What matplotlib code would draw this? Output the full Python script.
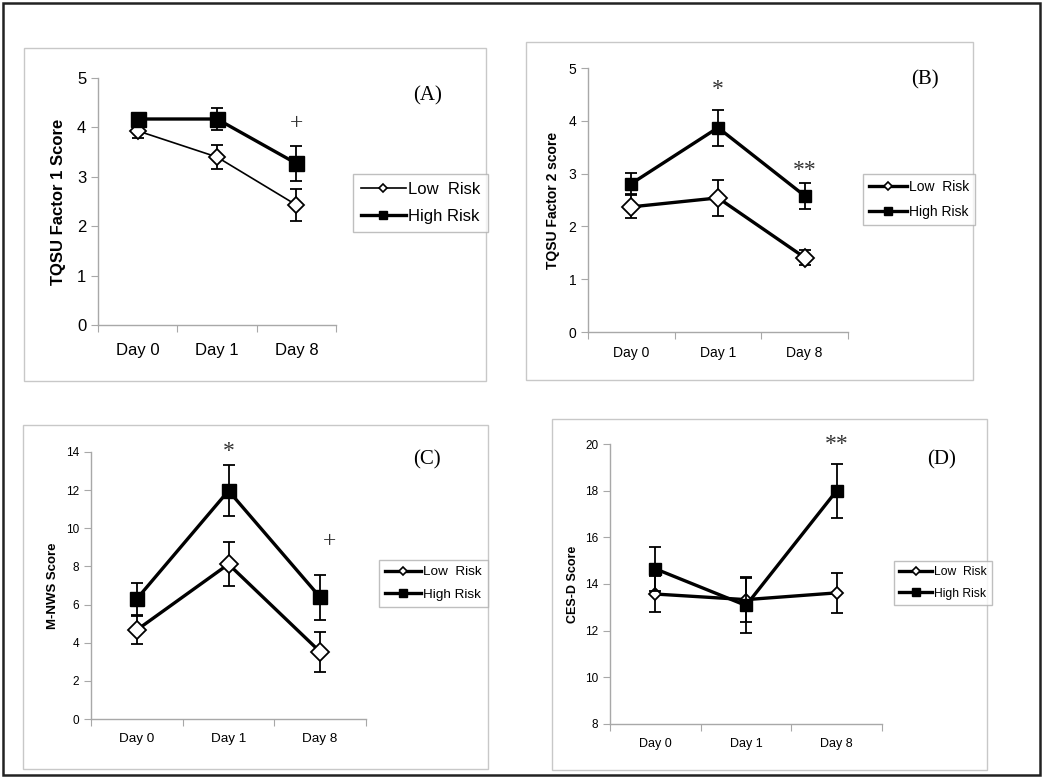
import matplotlib
matplotlib.use("Agg")
from matplotlib import pyplot as plt
from matplotlib.patches import Rectangle
from matplotlib.lines import Line2D

plt.rcParams['font.family'] = ['Liberation Sans', 'DejaVu Sans']

days = ['Day 0', 'Day 1', 'Day 8']
series = ['Low  Risk', 'High Risk']

# (A) TQSU factor 1
a_low = [3.93, 3.40, 2.43]
a_low_err = [0.15, 0.24, 0.33]
a_high = [4.17, 4.17, 3.27]
a_high_err = [0.10, 0.23, 0.35]

# (B) TQSU factor 2
b_low = [2.37, 2.54, 1.41]
b_low_err = [0.22, 0.34, 0.15]
b_high = [2.81, 3.87, 2.58]
b_high_err = [0.20, 0.34, 0.25]

# (C) M-NWS
c_low = [4.67, 8.12, 3.52]
c_low_err = [0.75, 1.15, 1.05]
c_high = [6.30, 11.97, 6.38]
c_high_err = [0.85, 1.35, 1.18]

# (D) CES-D
d_low = [13.57, 13.33, 13.62]
d_low_err = [0.77, 0.95, 0.85]
d_high = [14.65, 13.08, 18.0]
d_high_err = [0.93, 1.17, 1.15]

W, H = 1050, 780
fig = plt.figure(figsize=(W / 100, H / 100), dpi=100)

# frames drawn in pixel space
bg = fig.add_axes([0, 0, 1, 1], zorder=-1)
bg.set_xlim(0, W)
bg.set_ylim(H, 0)
bg.axis('off')
bg.add_patch(Rectangle((3, 3), 1037, 772, fill=False, ec='#222222', lw=1.8))
for x0, y0, x1, y1 in [(24, 48, 486, 381), (526, 42, 973, 380),
                       (23, 425, 488, 769), (552, 419, 987, 770)]:
    bg.add_patch(Rectangle((x0, y0), x1 - x0, y1 - y0, fill=False,
                           ec='#c8c8c8', lw=1.0))

SERIF = ['Liberation Serif', 'DejaVu Serif']


def px_axes(x0, y0, x1, y1):
    return fig.add_axes([x0 / W, 1 - y1 / H, (x1 - x0) / W, (y1 - y0) / H])


def panel(box, low, low_err, high, high_err, ylim, yticks, ylabel,
          tick_fs, day_fs, lab_fs, lab_pad, leg_fs, leg_xy, tag, tag_xy,
          marks, sq=9, dm=8.5, low_lw=2.4, day_pad=12):
    ax = px_axes(*box)
    xs = [0.5, 1.5, 2.5]
    ax.errorbar(xs, low, yerr=low_err, color='black', lw=low_lw,
                elinewidth=1.3, capsize=4.5, capthick=1.3, marker='D',
                ms=dm, mfc='white', mec='black', mew=1.3, zorder=3)
    ax.errorbar(xs, high, yerr=high_err, color='black', lw=2.4,
                elinewidth=1.3, capsize=4.5, capthick=1.3, marker='s',
                ms=sq, mfc='black', mec='black', zorder=4)
    ax.set_xlim(0, 3)
    ax.set_ylim(*ylim)
    ax.set_yticks(yticks)
    ax.set_xticks([0, 1, 2, 3])
    ax.set_xticklabels([])
    ax.set_xticks(xs, minor=True)
    ax.set_xticklabels(days, minor=True, fontsize=day_fs)
    ax.tick_params(axis='x', which='major', length=5, color='#a8a8a8')
    ax.tick_params(axis='x', which='minor', length=0, pad=day_pad)
    ax.tick_params(axis='y', length=5, color='#a8a8a8', labelsize=tick_fs)
    for s in ['top', 'right']:
        ax.spines[s].set_visible(False)
    for s in ['left', 'bottom']:
        ax.spines[s].set_color('#a8a8a8')
        ax.spines[s].set_linewidth(1.0)
    ax.set_ylabel(ylabel, fontsize=lab_fs, fontweight='bold', labelpad=lab_pad)
    ax.set_facecolor('none')
    for x, y, s in marks:
        ax.text(x, y, s, ha='center', va='center', fontsize=17,
                family=SERIF, color='#333333')
    bg.text(tag_xy[0], tag_xy[1], tag, ha='center', va='center', fontsize=15,
            family=SERIF)
    handles = [
        Line2D([], [], color='black', lw=low_lw, marker='D', ms=4.2,
               mfc='white', mec='black', mew=1.2),
        Line2D([], [], color='black', lw=2.4, marker='s', ms=5.5,
               mfc='black', mec='black'),
    ]
    leg = ax.legend(handles, series, loc='upper left', fontsize=leg_fs,
                    frameon=True, fancybox=False, edgecolor='#b0b0b0',
                    handlelength=2.7, handletextpad=0.15, borderpad=0.45,
                    labelspacing=0.75, borderaxespad=0,
                    bbox_to_anchor=(leg_xy[0] / W, 1 - leg_xy[1] / H),
                    bbox_transform=fig.transFigure)
    leg.get_frame().set_linewidth(1.0)
    return ax


panel((98, 78, 336, 325), a_low, a_low_err, a_high, a_high_err,
      (0, 5), [0, 1, 2, 3, 4, 5], 'TQSU Factor 1 Score',
      12, 12, 12, 8, 12, (353, 174), '(A)', (428, 96),
      [(2.5, 4.07, '+')], sq=10.8, dm=8.2, low_lw=1.2, day_pad=13)

panel((588, 68, 848, 332), b_low, b_low_err, b_high, b_high_err,
      (0, 5), [0, 1, 2, 3, 4, 5], 'TQSU Factor 2 score',
      10, 10, 10, 6, 10, (863, 174), '(B)', (925, 80),
      [(1.5, 4.6, '*'), (2.5, 3.06, '**')], sq=8.8, dm=9.5, day_pad=10)

panel((91, 452, 366, 719), c_low, c_low_err, c_high, c_high_err,
      (0, 14), [0, 2, 4, 6, 8, 10, 12, 14], 'M-NWS Score',
      8.5, 9.7, 9.5, 5, 9.7, (379, 560), '(C)', (427, 460),
      [(1.5, 14.0, '*'), (2.6, 9.3, '+')], sq=9.4, dm=8.7, day_pad=10)

panel((610, 444, 882, 724), d_low, d_low_err, d_high, d_high_err,
      (8, 20), [8, 10, 12, 14, 16, 18, 20], 'CES-D Score',
      8.5, 9, 9, 4, 8.7, (894, 561), '(D)', (942, 460),
      [(2.5, 20.0, '**')], sq=8.9, dm=5.8, day_pad=10)

fig.savefig('out.png', dpi=100)
